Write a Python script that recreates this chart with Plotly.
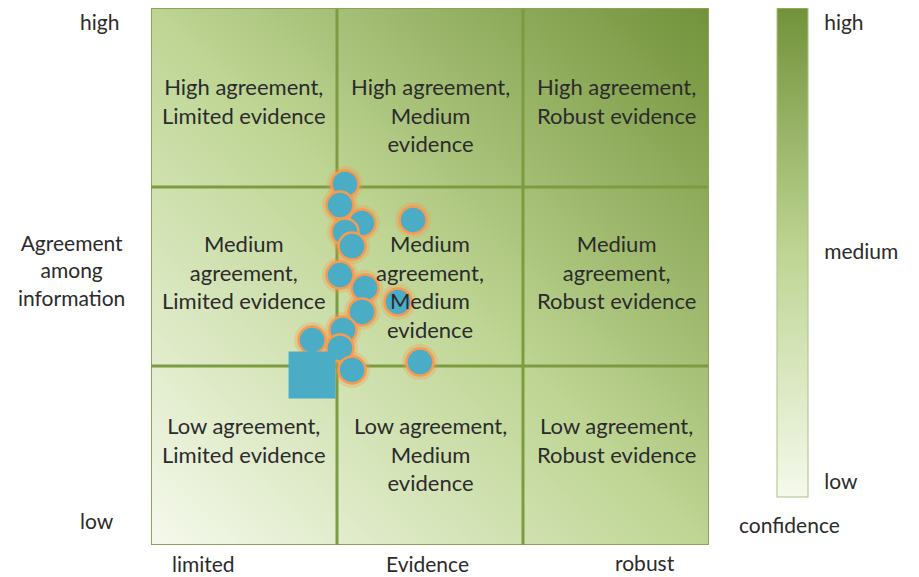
"""
Agreement / evidence confidence matrix with assessed statements plotted on top
"""

import plotly.graph_objects as go

# grid cell labels, rows from low to high agreement, columns limited -> robust
cell_text = [
    ["Low agreement,<br>Limited evidence", "Low agreement,<br>Medium<br>evidence", "Low agreement,<br>Robust evidence"],
    ["Medium<br>agreement,<br>Limited evidence", "Medium<br>agreement,<br>Medium<br>evidence", "Medium<br>agreement,<br>Robust evidence"],
    ["High agreement,<br>Limited evidence", "High agreement,<br>Medium<br>evidence", "High agreement,<br>Robust evidence"],
]

# cell boundaries on both axes
cell_edges = [0, 1, 2, 3]

# confidence level at the corners of the matrix (bottom-left .. top-right)
conf_x = [0, 3]
conf_y = [0, 3]
conf_z = [[0.0, 0.5], [0.5, 1.0]]

# assessed statements (evidence, agreement)
stmt_evidence = [1.134, 1.043, 1.016, 1.043, 1.081, 1.409, 1.016, 1.151, 1.328,
                 1.134, 1.032, 0.866, 1.016, 1.081, 1.446]
stmt_agreement = [1.799, 2.017, 1.899, 1.749, 1.670, 1.816, 1.508, 1.436, 1.358,
                  1.302, 1.201, 1.145, 1.101, 0.978, 1.022]

# the highlighted statement (square)
key_evidence = [0.866]
key_agreement = [0.950]

conf_tickvals = [0.031, 0.501, 0.971]
conf_ticktext = ["low", "medium", "high"]

FONT = "Lato"
TEXT_COLOR = "#2b2b2b"
LINE_COLOR = "#7d9b40"
BLUE = "#4bacc6"
ORANGE = "#f59c52"

fig = go.Figure()

fig.add_trace(
    go.Heatmap(
        x=conf_x,
        y=conf_y,
        z=conf_z,
        zmin=0,
        zmax=1,
        zsmooth="best",
        colorscale=[[0, "#f5f9ec"], [0.5, "#bed593"], [1, "#72923a"]],
        hoverinfo="skip",
        colorbar=dict(
            x=1.122,
            xanchor="left",
            y=1,
            yanchor="top",
            len=489,
            lenmode="pixels",
            thickness=31,
            xpad=0,
            ypad=0,
            outlinecolor="#a9c282",
            outlinewidth=1,
            tickvals=conf_tickvals,
            ticktext=conf_ticktext,
            ticks="outside",
            ticklen=12,
            tickcolor="rgba(0,0,0,0)",
            tickfont=dict(family=FONT, size=21, color=TEXT_COLOR),
        ),
    )
)

# grid lines, drawn over the gradient but under the markers
for e in cell_edges:
    outer = e in (cell_edges[0], cell_edges[-1])
    style = dict(color="#8ca35f" if outer else LINE_COLOR, width=2 if outer else 3)
    fig.add_trace(go.Scatter(x=[e, e], y=[cell_edges[0], cell_edges[-1]], mode="lines",
                             line=style, hoverinfo="skip", showlegend=False))
    fig.add_trace(go.Scatter(x=[cell_edges[0], cell_edges[-1]], y=[e, e], mode="lines",
                             line=style, hoverinfo="skip", showlegend=False))

# soft orange glow behind the circles
fig.add_trace(
    go.Scatter(
        x=stmt_evidence,
        y=stmt_agreement,
        mode="markers",
        marker=dict(size=36, color="rgba(247,150,70,0.28)", line=dict(width=0)),
        hoverinfo="skip",
        showlegend=False,
    )
)

fig.add_trace(
    go.Scatter(
        x=stmt_evidence,
        y=stmt_agreement,
        mode="markers",
        marker=dict(size=27, color=BLUE, line=dict(width=2.5, color=ORANGE)),
        showlegend=False,
    )
)

fig.add_trace(
    go.Scatter(
        x=key_evidence,
        y=key_agreement,
        mode="markers",
        marker=dict(symbol="square", size=47, color=BLUE, line=dict(width=0)),
        showlegend=False,
    )
)

# cell labels (top of text block per row)
row_text_top = [0.757, 1.77, 2.647]
for r, row in enumerate(cell_text):
    for c, txt in enumerate(row):
        fig.add_annotation(
            x=c + 0.5,
            y=row_text_top[r],
            text=txt,
            showarrow=False,
            xanchor="center",
            yanchor="top",
            align="center",
            font=dict(family=FONT, size=22, color=TEXT_COLOR),
        )

outer_labels = [
    ("high", -0.0914, 0.974),
    ("low", -0.0968, 0.0447),
    ("Agreement<br>among<br>information", -0.1416, 0.512),
    ("limited", 0.0932, -0.035),
    ("Evidence", 0.496, -0.035),
    ("robust", 0.885, -0.0320),
    ("confidence", 1.145, 0.039),
]
for txt, x, y in outer_labels:
    fig.add_annotation(
        x=x,
        y=y,
        xref="paper",
        yref="paper",
        text=txt,
        showarrow=False,
        xanchor="center",
        yanchor="middle",
        align="center",
        font=dict(family=FONT, size=21, color=TEXT_COLOR),
    )

# the page body adds 8px around the figure, so the layout is shifted by that
fig.update_layout(
    width=919,
    height=577,
    margin=dict(l=143, r=218, t=0, b=40, autoexpand=False),
    paper_bgcolor="white",
    plot_bgcolor="white",
    showlegend=False,
    xaxis=dict(range=[0, 3], visible=False, fixedrange=True),
    yaxis=dict(range=[0, 3], visible=False, fixedrange=True),
)

fig.write_html("out.html")
